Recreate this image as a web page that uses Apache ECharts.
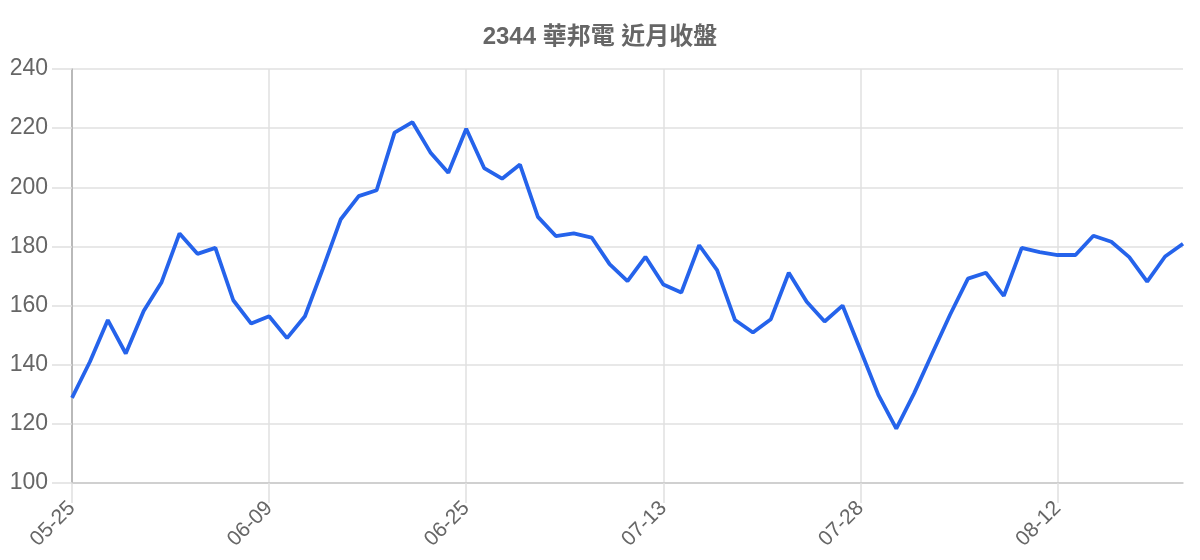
<!DOCTYPE html>
<html>
<head>
<meta charset="utf-8">
<script src="https://cdn.jsdelivr.net/npm/echarts@6/dist/echarts.min.js"></script>
<style>
html,body{margin:0;padding:0;background:#fff;}
#chart{width:1200px;height:560px;}
</style>
</head>
<body>
<div id="chart"></div>
<script>
const titleText = '2344 華邦電 近月收盤';
const dates = [
  '05-25','05-26','05-27','05-28','05-29','06-01','06-02','06-03','06-04','06-05','06-08',
  '06-09','06-10','06-11','06-12','06-15','06-16','06-17','06-18','06-19','06-22','06-24',
  '06-25','06-26','06-29','06-30','07-01','07-02','07-03','07-06','07-07','07-08','07-10',
  '07-13','07-14','07-15','07-16','07-17','07-20','07-21','07-22','07-23','07-24','07-27',
  '07-28','07-29','07-30','07-31','08-03','08-04','08-05','08-06','08-07','08-10','08-11',
  '08-12','08-13','08-14','08-17','08-18','08-19','08-20','08-21'
];
const closes = [
  128.8,141.0,155.1,143.8,158.2,167.9,184.4,177.5,179.5,161.8,153.9,
  156.4,149.0,156.4,172.5,189.2,197.0,199.0,218.5,222.0,211.8,204.9,
  219.8,206.5,202.9,207.7,190.0,183.5,184.4,183.0,174.0,168.3,176.5,
  167.1,164.4,180.4,172.0,155.1,150.9,155.4,171.1,161.3,154.6,160.0,
  145.0,129.8,118.4,130.4,143.7,156.9,169.1,171.1,163.3,179.5,178.1,
  177.1,177.1,183.6,181.6,176.4,168.1,176.6,180.9
];
const yMin = 100, yMax = 240, yStep = 20;

const chart = echarts.init(document.getElementById('chart'));
const font = "'Liberation Sans', 'Noto Sans CJK TC', sans-serif";
chart.setOption({
  animation: false,
  title: {
    text: titleText,
    left: 'center',
    top: 20,
    textStyle: { fontSize: 24, fontWeight: 'bold', color: '#666', fontFamily: font }
  },
  grid: { left: 72, right: 17, top: 69, bottom: 77, containLabel: false },
  xAxis: {
    type: 'category',
    data: dates,
    boundaryGap: false,
    axisLine: { show: true, lineStyle: { color: '#c8c8c8', width: 1.5 } },
    axisTick: { show: true, interval: 10, length: 20, lineStyle: { color: '#e0e0e0', width: 1.5 } },
    splitLine: { show: true, interval: 10, lineStyle: { color: '#e0e0e0', width: 1.5 } },
    axisLabel: {
      interval: 10, rotate: 45, margin: 22,
      fontSize: 21, color: '#666', fontFamily: font
    }
  },
  yAxis: {
    type: 'value',
    min: yMin, max: yMax, interval: yStep,
    axisLine: { show: true, lineStyle: { color: '#aaa', width: 1.5 } },
    axisTick: { show: true, length: 20, lineStyle: { color: '#e0e0e0', width: 1.5 } },
    splitLine: { show: true, lineStyle: { color: '#e0e0e0', width: 1.5 } },
    axisLabel: { margin: 24, fontSize: 23, color: '#666', fontFamily: font }
  },
  series: [{
    type: 'line',
    data: closes,
    showSymbol: false,
    symbol: 'none',
    lineStyle: { color: '#2563eb', width: 3.8 },
    itemStyle: { color: '#2563eb' }
  }]
});
</script>
</body>
</html>
